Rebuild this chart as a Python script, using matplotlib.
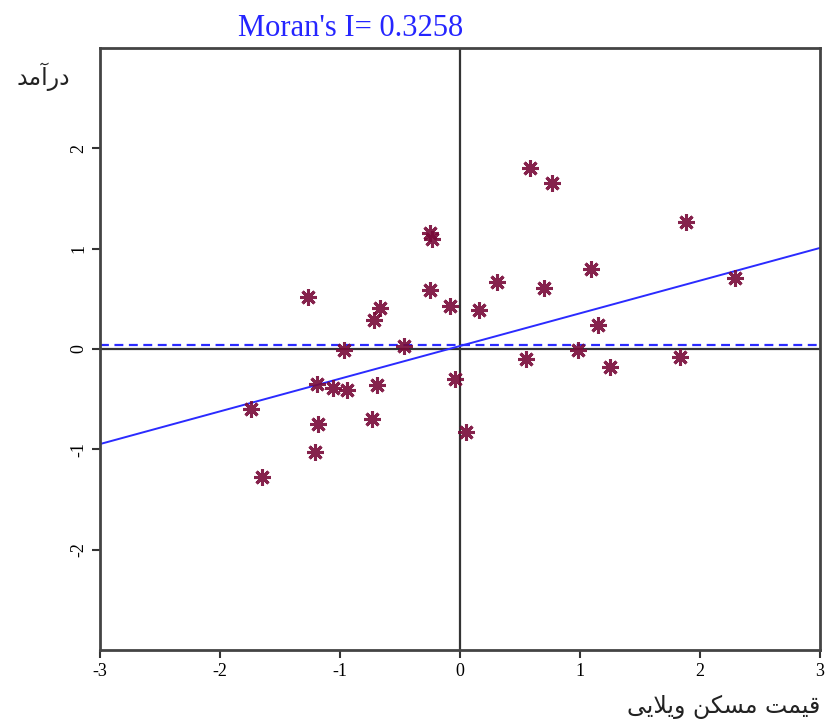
import matplotlib
matplotlib.use("Agg")
import matplotlib.pyplot as plt
import numpy as np

# standardised values
house_price = [0.58, 0.77, 1.88, -0.25, -0.23, 1.09, 0.31, 0.70, -0.25, -1.27,
               -0.67, -0.72, -0.08, 0.16, 2.29, 1.15, -0.47, -0.97, 0.55, 0.98,
               1.83, 1.25, -0.04, -1.19, -1.06, -0.94, -0.69, -1.74, -1.18,
               -0.73, 0.05, -1.21, -1.65]
income_lag = [1.80, 1.65, 1.27, 1.16, 1.10, 0.80, 0.67, 0.61, 0.59, 0.52,
              0.41, 0.29, 0.43, 0.39, 0.71, 0.24, 0.03, -0.01, -0.10, -0.01,
              -0.08, -0.18, -0.30, -0.35, -0.39, -0.41, -0.36, -0.60, -0.75,
              -0.70, -0.83, -1.03, -1.28]
morans_i = 0.3258
intercept = 0.03
mean_line = 0.04
ticks = [-3, -2, -1, 0, 1, 2, 3]
yticks = [-2, -1, 0, 1, 2]

# persian labels in presentation forms (matplotlib has no arabic shaping)
ylab = "\uFEAA\uFEE3\uFE81\uFEAD\uFEA9"            # درآمد
xlab = ("\uFEF0\uFEF3\uFEFC\uFEF3\uFEED" + " " +
        "\uFEE6\uFEDC\uFEB4\uFEE3" + " " +
        "\uFE96\uFEE4\uFEF4\uFED7")                # قیمت مسکن ویلایی

fig = plt.figure(figsize=(8.27, 7.2), dpi=100)
ax = fig.add_axes([100/827, 1-650/720, 720/827, 602/720])

ax.axhline(0, color="#333333", lw=1.6, zorder=1)
ax.axvline(0, color="#333333", lw=1.6, zorder=1)
ax.axhline(mean_line, color="#2b2bff", lw=1.6, ls=(0, (4, 2.5)), zorder=2)
xs = np.array([-3, 3])
ax.plot(xs, morans_i*xs + intercept, color="#2b2bff", lw=1.4, zorder=2)

ax.plot(house_price, income_lag, ls="none", marker=(8, 2, 0), ms=12, mew=2.2,
        color="#780a38", alpha=0.9, zorder=3)

ax.set_xlim(-3, 3)
ax.set_ylim(-3, 3)
ax.set_xticks(ticks)
ax.set_xticklabels([str(t) for t in ticks], fontfamily="Liberation Serif", fontsize=13)
ax.set_yticks(yticks)
ax.set_yticklabels([str(t) for t in yticks], fontfamily="Liberation Serif", fontsize=13,
                   rotation=90, va="center")
ax.tick_params(direction="out", length=6, width=1.5, color="#333333", pad=3)
for s in ax.spines.values():
    s.set_color("#444444")
    s.set_linewidth(2)

fig.text(351/827, 1-28/720, "Moran's I= 0.3258", color="#2525ff",
         fontfamily="Liberation Serif", fontsize=22, ha="center", va="center")
fig.text(43/827, 1-77/720, ylab, fontfamily="DejaVu Sans", fontsize=17,
         ha="center", va="center", color="#222222")
fig.text(820/827, 1-707/720, xlab, fontfamily="DejaVu Sans", fontsize=17,
         ha="right", va="center", color="#222222")

fig.savefig("out.png", dpi=100)
